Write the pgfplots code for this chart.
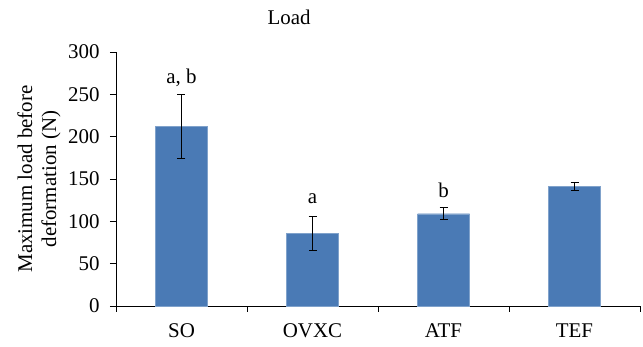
\documentclass[border=0pt]{standalone}
\usepackage{pgfplots}
\pgfplotsset{compat=1.18}
\usepackage{fontspec}
\setmainfont{Liberation Serif}
\definecolor{barblue}{HTML}{4A7AB5}
\newcommand{\chartfont}{\fontsize{21}{24}\selectfont}
\begin{document}
\begin{tikzpicture}[x=1bp,y=1bp]
\path[use as bounding box] (-116bp,-41bp) rectangle (527bp,306bp);
\begin{axis}[
  at={(0,0)}, anchor=origin,
  scale only axis, width=524bp, height=254bp,
  xmin=0.5, xmax=4.5, ymin=0, ymax=300,
  axis x line*=bottom, axis y line*=left,
  axis line style={black, line width=0.8pt},
  xtick={1,2,3,4}, xticklabels={SO,OVXC,ATF,TEF},
  major x tick style={draw=none},
  minor xtick={0.5,1.5,2.5,3.5,4.5},
  ytick={0,50,...,300},
  tick align=outside,
  major tick length=6bp, minor tick length=6bp,
  tick style={black, line width=0.8pt},
  every tick label/.style={font=\chartfont},
  /pgf/number format/assume math mode=true,
  yticklabel style={xshift=-7bp},
  xticklabel style={yshift=-8bp},
  ylabel={Maximum load before\\deformation (N)},
  ylabel style={align=center, font=\chartfont, at={(axis description cs:0,0.5)}, anchor=south, yshift=52bp},
  clip=false,
]
\addplot[ybar, bar width=52bp, fill=barblue, draw=barblue!70!white, line width=0.4pt,
  error bars/.cd, y dir=both, y explicit,
  error bar style={black, line width=0.9pt},
  error mark options={rotate=90, mark size=4bp, line width=0.9pt, black}]
  coordinates {(1,212) +- (0,38) (2,86) +- (0,20) (3,109) +- (0,7) (4,141) +- (0,5)};
\node[font=\chartfont] at (axis cs:1,269) {a, b};
\node[font=\chartfont] at (axis cs:2,127) {a};
\node[font=\chartfont] at (axis cs:3,136.5) {b};
\end{axis}
\node[font=\chartfont] at (173bp,289bp) {Load};
\end{tikzpicture}
\end{document}
